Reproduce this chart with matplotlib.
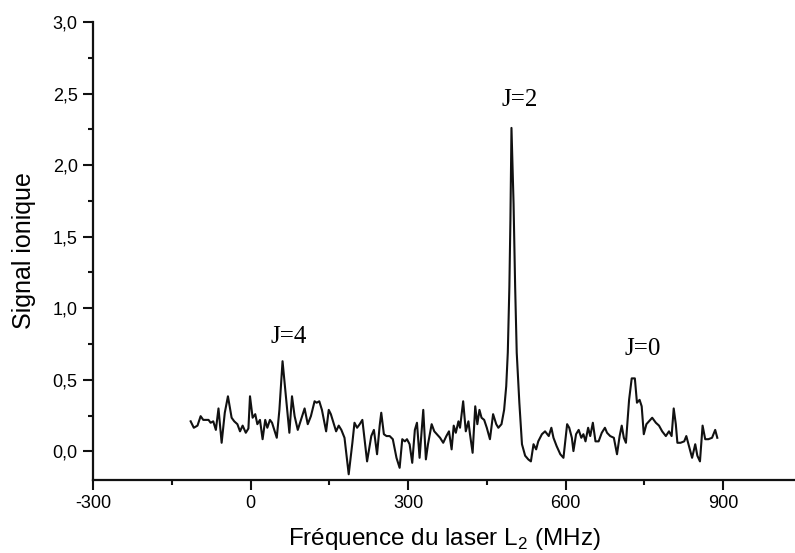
import matplotlib
matplotlib.use('Agg')
import matplotlib.pyplot as plt

# frequency (MHz) and ion signal
freq = [-114, -108, -101, -95, -90, -85, -80, -76, -71, -66, -61, -55, -49, -43, -36, -31,
        -25, -20, -15, -9, -4, -1, 4, 9, 13, 18, 23, 28, 32, 37, 41, 50, 55, 61, 74, 79,
        84, 90, 96, 103, 109, 115, 122, 126, 131, 136, 144, 149, 153, 158, 163, 168, 173, 179,
        187, 194, 198, 203, 208, 213, 222, 230, 235, 241, 246, 249, 254, 259, 265, 271, 278, 284,
        289, 294, 298, 303, 308, 313, 317, 322, 329, 334, 338, 345, 350, 355, 361, 367, 373, 378,
        383, 387, 391, 396, 399, 405, 410, 415, 418, 423, 428, 432, 436, 440, 445, 450, 456, 462,
        468, 472, 478, 483, 487, 490, 493, 495, 497, 501, 504, 507, 512, 517, 523, 529, 534, 539,
        544, 548, 555, 561, 568, 573, 577, 583, 590, 596, 603, 607, 612, 615, 620, 625, 630, 634,
        638, 643, 647, 652, 657, 663, 669, 675, 679, 685, 692, 698, 703, 707, 711, 715, 721, 726,
        732, 736, 741, 745, 749, 754, 759, 765, 772, 778, 784, 791, 797, 802, 806, 810, 813, 819,
        826, 830, 835, 841, 847, 851, 856, 861, 866, 872, 879, 885, 889]
signal = [0.21, 0.165, 0.18, 0.246, 0.22, 0.22, 0.22, 0.20, 0.21, 0.15, 0.30, 0.06, 0.27, 0.385, 0.235, 0.21,
          0.19, 0.14, 0.18, 0.13, 0.16, 0.385, 0.235, 0.26, 0.19, 0.22, 0.085, 0.22, 0.165, 0.22, 0.20, 0.095, 0.29, 0.63, 0.13, 0.385,
          0.246, 0.15, 0.22, 0.30, 0.19, 0.246, 0.35, 0.34, 0.35, 0.29, 0.14, 0.29, 0.26, 0.20, 0.14, 0.18, 0.15, 0.095,
          -0.16, 0.06, 0.20, 0.165, 0.19, 0.22, -0.07, 0.107, 0.15, -0.02, 0.18, 0.27, 0.12, 0.107, 0.107, 0.085, -0.045, -0.115,
          0.085, 0.07, 0.085, 0.05, -0.08, 0.15, 0.20, -0.045, 0.29, -0.056, 0.05, 0.19, 0.14, 0.12, 0.095, 0.06, 0.107, 0.14,
          0.014, 0.18, 0.13, 0.21, 0.165, 0.35, 0.14, 0.21, 0.12, -0.01, 0.315, 0.19, 0.29, 0.235, 0.22, 0.165, 0.085, 0.26,
          0.19, 0.165, 0.19, 0.29, 0.455, 0.69, 1.15, 1.62, 2.26, 1.73, 1.15, 0.69, 0.34, 0.05, -0.03, -0.056, -0.07, 0.05,
          0.014, 0.07, 0.12, 0.14, 0.107, 0.165, 0.095, 0.037, -0.02, -0.045, 0.19, 0.165, 0.095, 0.002, 0.12, 0.15, 0.095, 0.12,
          0.07, 0.165, 0.107, 0.20, 0.07, 0.07, 0.13, 0.165, 0.13, 0.107, 0.095, -0.02, 0.107, 0.18, 0.095, 0.06, 0.36, 0.51,
          0.51, 0.34, 0.36, 0.315, 0.12, 0.19, 0.21, 0.235, 0.20, 0.18, 0.14, 0.107, 0.14, 0.107, 0.30, 0.19, 0.06, 0.06,
          0.07, 0.107, 0.037, -0.045, 0.05, -0.03, -0.07, 0.18, 0.085, 0.085, 0.095, 0.15, 0.095]

peak_labels = ['J=4', 'J=2', 'J=0']
peak_x = [73, 512, 747]
peak_y = [0.76, 2.41, 0.676]

xticks = [-300, 0, 300, 600, 900]
xtick_labels = ['-300', '0', '300', '600', '900']
xminor = [-150, 150, 450, 750]
yticks = [0.0, 0.5, 1.0, 1.5, 2.0, 2.5, 3.0]
ytick_labels = ['0,0', '0,5', '1,0', '1,5', '2,0', '2,5', '3,0']
yminor = [0.25, 0.75, 1.25, 1.75, 2.25, 2.75]

plt.rcParams['font.family'] = ['Liberation Sans', 'DejaVu Sans']

fig = plt.figure(figsize=(7.95, 5.53), dpi=100)
ax = fig.add_axes([93 / 795, 73 / 553, 1 - 93 / 795, 458 / 553])

ax.plot(freq, signal, color='#111111', lw=1.5)

for lab, x, y in zip(peak_labels, peak_x, peak_y):
	ax.text(x, y, lab, ha='center', va='baseline', fontsize=18,
	        family=['Liberation Serif', 'DejaVu Serif'])

ax.set_xlim(-300, 1037)
ax.set_ylim(-0.2, 3.0)
ax.set_xticks(xticks)
ax.set_xticklabels(xtick_labels)
ax.set_xticks(xminor, minor=True)
ax.set_yticks(yticks)
ax.set_yticklabels(ytick_labels)
ax.set_yticks(yminor, minor=True)

ax.spines['top'].set_visible(False)
ax.spines['right'].set_visible(False)
for s in ['left', 'bottom']:
	ax.spines[s].set_linewidth(1.6)
	ax.spines[s].set_color('#111111')
ax.tick_params(which='major', length=7, width=1.5, labelsize=13, color='#111111', pad=4)
ax.tick_params(which='minor', length=3.5, width=1.5, color='#111111')

ax.set_xlabel(r'Fréquence du laser L$_\mathregular{2}$ (MHz)', fontsize=17.5, labelpad=10)
ax.set_ylabel('Signal ionique', fontsize=18, labelpad=12)

fig.savefig('out.png', dpi=100)
